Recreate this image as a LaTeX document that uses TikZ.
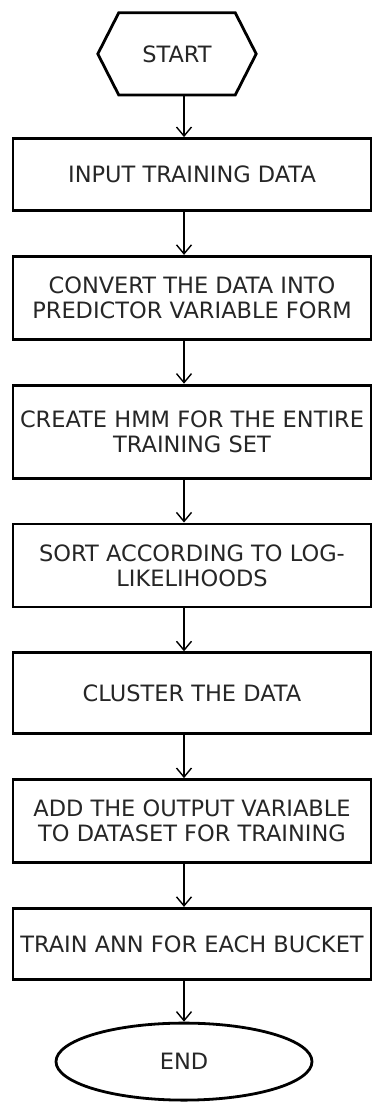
\documentclass[tikz,border=0pt]{standalone}
\usepackage{fontspec}
\setmainfont{DejaVu Sans}
\usetikzlibrary{shapes.geometric, arrows.meta, positioning, calc}

\begin{document}
\begin{tikzpicture}[
    x=1pt, y=1pt,
    node distance=43pt,
    block/.style={rectangle, draw, line width=2.8pt, fill=white, text=black!85, minimum width=358pt, minimum height=83pt, align=center, font=\fontsize{22.5}{25}\selectfont},
    term/.style={ellipse, draw, line width=2.8pt, fill=white, text=black!85, minimum width=256pt, minimum height=77pt, font=\fontsize{22.5}{25}\selectfont},
    arrow/.style={line width=1.4pt, -{Straight Barb[length=9pt, width=15pt]}}
]
    \useasboundingbox (0,0) rectangle (374,-1107);
    \coordinate (spine) at (184,0);

    \node [block, minimum height=72pt] (input) at (192,-174.5) {INPUT TRAINING DATA};
    \node [text=black!85, minimum width=158pt, minimum height=82pt, font=\fontsize{22.5}{25}\selectfont, above=42pt of input, xshift=-15pt] (start) {START};
    \node [block, below=of input] (convert) {CONVERT THE DATA INTO\\PREDICTOR VARIABLE FORM};
    \node [block, minimum height=93pt, below=of convert] (hmm) {CREATE HMM FOR THE ENTIRE\\TRAINING SET};
    \node [block, below=of hmm] (sort) {SORT ACCORDING TO LOG-\\LIKELIHOODS};
    \node [block, minimum height=81pt, below=of sort] (cluster) {CLUSTER THE DATA};
    \node [block, below=of cluster] (addout) {ADD THE OUTPUT VARIABLE\\TO DATASET FOR TRAINING};
    \node [block, minimum height=71pt, below=of addout] (train) {TRAIN ANN FOR EACH BUCKET};
    \node [term, below=41pt of train, xshift=-8pt] (end) {END};

    % hexagon round the start node
    \draw [line width=2.8pt, line join=miter] (start.west) -- ($(start.north west)+(21,0)$) -- ($(start.north east)+(-21,0)$) -- (start.east) -- ($(start.south east)+(-21,0)$) -- ($(start.south west)+(21,0)$) -- cycle;

    \draw [arrow] (start.south -| spine) -- (input.north -| spine);
    \draw [arrow] (input.south -| spine) -- (convert.north -| spine);
    \draw [arrow] (convert.south -| spine) -- (hmm.north -| spine);
    \draw [arrow] (hmm.south -| spine) -- (sort.north -| spine);
    \draw [arrow] (sort.south -| spine) -- (cluster.north -| spine);
    \draw [arrow] (cluster.south -| spine) -- (addout.north -| spine);
    \draw [arrow] (addout.south -| spine) -- (train.north -| spine);
    \draw [arrow] (train.south -| spine) -- (end.north -| spine);
\end{tikzpicture}
\end{document}
